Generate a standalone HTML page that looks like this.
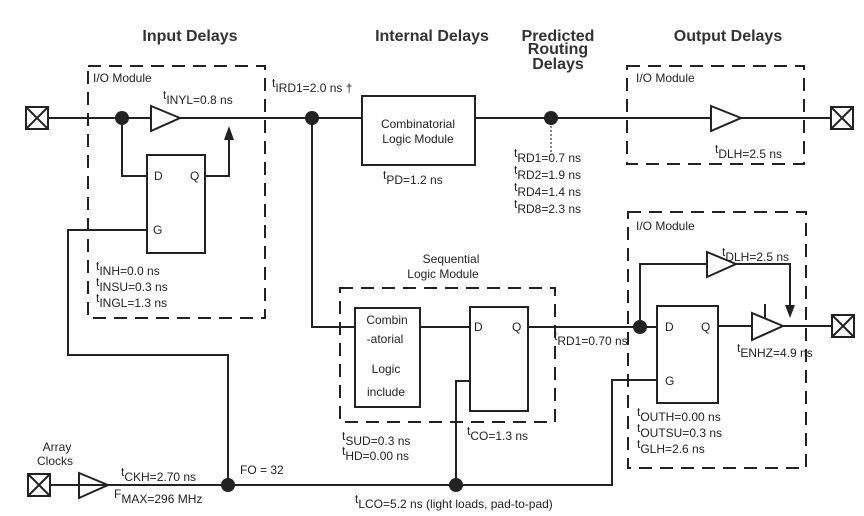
<!DOCTYPE html>
<html><head><meta charset="utf-8"><style>
html,body{margin:0;padding:0;background:#fff;width:864px;height:516px;overflow:hidden}
svg{display:block}
text{font-family:"Liberation Sans","DejaVu Sans",sans-serif;fill:#222}
.l{font-size:12px}
.h{font-size:16px;font-weight:bold;fill:#333}
</style></head><body>
<svg width="864" height="516" viewBox="0 0 864 516" xmlns="http://www.w3.org/2000/svg">
<g stroke="#222" stroke-width="2" fill="none">
<rect x="88" y="66" width="177" height="252" stroke-dasharray="13,8"/>
<rect x="627" y="66" width="177" height="98" stroke-dasharray="13,8"/>
<rect x="340" y="288" width="215" height="134" stroke-dasharray="13,8"/>
<rect x="628" y="212" width="178" height="256" stroke-dasharray="13,8"/>
<line x1="49" y1="118" x2="151" y2="118"/>
<line x1="180" y1="118" x2="362" y2="118"/>
<line x1="475" y1="118" x2="711" y2="118"/>
<line x1="741" y1="118" x2="831" y2="118"/>
<rect x="26" y="107" width="22" height="22"/><path d="M26 107L48 129M48 107L26 129"/>
<rect x="831" y="107" width="22" height="22"/><path d="M831 107L853 129M853 107L831 129"/>
<rect x="832" y="315" width="22" height="22"/><path d="M832 315L854 337M854 315L832 337"/>
<rect x="28" y="474" width="22" height="22"/><path d="M28 474L50 496M50 474L28 496"/>
<path d="M151 106L180 118L151 131Z"/>
<path d="M711 106L741 118L711 131Z"/>
<path d="M707 252L736 264L707 277Z"/>
<path d="M752 313L783 326L752 340Z"/>
<path d="M79 473L108 485L79 498Z"/>
<rect x="147" y="155" width="58" height="98"/>
<polyline points="122,118 122,176 147,176"/>
<polyline points="205,176 229,176 229,138"/>
<polyline points="147,230 68,230 68,355 228,355 228,485"/>
<rect x="362" y="96" width="113" height="69"/>
<polyline points="312,118 312,327 355,327"/>
<rect x="355" y="308" width="65" height="99"/>
<line x1="420" y1="327" x2="470" y2="327"/>
<rect x="470" y="307" width="58" height="104"/>
<polyline points="470,381 456,381 456,485"/>
<line x1="528" y1="327" x2="657" y2="327"/>
<rect x="657" y="306" width="61" height="97"/>
<polyline points="657,380 612,380 612,485 50,485"/>
<polyline points="640,327 640,264 707,264"/>
<polyline points="736,264 790,264 790,308"/>
<line x1="718" y1="326" x2="752" y2="326"/>
<line x1="783" y1="326" x2="832" y2="326"/>
<line x1="765" y1="304" x2="765" y2="318"/>
<line x1="551" y1="118" x2="551" y2="155" stroke="#888" stroke-dasharray="2,2"/>
</g>
<g fill="#222">
<path d="M224 140L229 126L234 140Z"/>
<path d="M785 305L790 318L795 305Z"/>
<circle cx="122" cy="118" r="7"/>
<circle cx="312" cy="118" r="7"/>
<circle cx="551" cy="118" r="7"/>
<circle cx="640" cy="327" r="7"/>
<circle cx="228" cy="485" r="7"/>
<circle cx="456" cy="485" r="7"/>
</g>
<text class="h" x="190" y="41" text-anchor="middle">Input Delays</text>
<text class="h" x="432" y="41" text-anchor="middle">Internal Delays</text>
<text class="h" x="558" y="41" text-anchor="middle">Predicted</text>
<text class="h" x="558" y="54" text-anchor="middle">Routing</text>
<text class="h" x="558" y="69" text-anchor="middle">Delays</text>
<text class="h" x="728" y="41" text-anchor="middle">Output Delays</text>
<text class="l" x="93" y="82">I/O Module</text>
<text class="l" x="636" y="82">I/O Module</text>
<text class="l" x="636" y="230">I/O Module</text>
<text class="l" x="163" y="99">t<tspan dy="5">INYL=0.8 ns</tspan></text>
<text class="l" x="272" y="87">t<tspan dy="5">IRD1=2.0 ns †</tspan></text>
<text class="l" x="418" y="128" text-anchor="middle">Combinatorial</text>
<text class="l" x="418" y="143" text-anchor="middle">Logic Module</text>
<text class="l" x="383" y="179">t<tspan dy="5">PD=1.2 ns</tspan></text>
<text class="l" x="514" y="157">t<tspan dy="5">RD1=0.7 ns</tspan></text>
<text class="l" x="514" y="174">t<tspan dy="5">RD2=1.9 ns</tspan></text>
<text class="l" x="514" y="191">t<tspan dy="5">RD4=1.4 ns</tspan></text>
<text class="l" x="514" y="208">t<tspan dy="5">RD8=2.3 ns</tspan></text>
<text class="l" x="715" y="153">t<tspan dy="5">DLH=2.5 ns</tspan></text>
<text class="l" x="154" y="180">D</text><text class="l" x="190" y="180">Q</text><text class="l" x="153" y="234">G</text>
<text class="l" x="96" y="270">t<tspan dy="5">INH=0.0 ns</tspan></text>
<text class="l" x="96" y="286">t<tspan dy="5">INSU=0.3 ns</tspan></text>
<text class="l" x="96" y="302">t<tspan dy="5">INGL=1.3 ns</tspan></text>
<text class="l" x="451" y="263" text-anchor="middle">Sequential</text>
<text class="l" x="443" y="278" text-anchor="middle">Logic Module</text>
<text class="l" x="387" y="324" text-anchor="middle">Combin</text>
<text class="l" x="385" y="343" text-anchor="middle">-atorial</text>
<text class="l" x="386" y="373" text-anchor="middle">Logic</text>
<text class="l" x="386" y="396" text-anchor="middle">include</text>
<text class="l" x="474" y="331">D</text><text class="l" x="512" y="331">Q</text>
<text class="l" x="554" y="340">t<tspan dy="5">RD1=0.70 ns</tspan></text>
<text class="l" x="342" y="440">t<tspan dy="5">SUD=0.3 ns</tspan></text>
<text class="l" x="342" y="455">t<tspan dy="5">HD=0.00 ns</tspan></text>
<text class="l" x="467" y="435">t<tspan dy="5">CO=1.3 ns</tspan></text>
<text class="l" x="355" y="503">t<tspan dy="5">LCO=5.2 ns (light loads, pad-to-pad)</tspan></text>
<text class="l" x="665" y="331">D</text><text class="l" x="701" y="331">Q</text><text class="l" x="665" y="385">G</text>
<text class="l" x="722" y="256">t<tspan dy="5">DLH=2.5 ns</tspan></text>
<text class="l" x="737" y="352">t<tspan dy="5">ENHZ=4.9 ns</tspan></text>
<text class="l" x="637" y="416">t<tspan dy="5">OUTH=0.00 ns</tspan></text>
<text class="l" x="637" y="432">t<tspan dy="5">OUTSU=0.3 ns</tspan></text>
<text class="l" x="637" y="448">t<tspan dy="5">GLH=2.6 ns</tspan></text>
<text class="l" x="57" y="451" text-anchor="middle">Array</text>
<text class="l" x="55" y="465" text-anchor="middle">Clocks</text>
<text class="l" x="121" y="476">t<tspan dy="5">CKH=2.70 ns</tspan></text>
<text class="l" x="114" y="498">F<tspan dy="5">MAX=296 MHz</tspan></text>
<text class="l" x="240" y="474">FO = 32</text>
</svg>
</body></html>
